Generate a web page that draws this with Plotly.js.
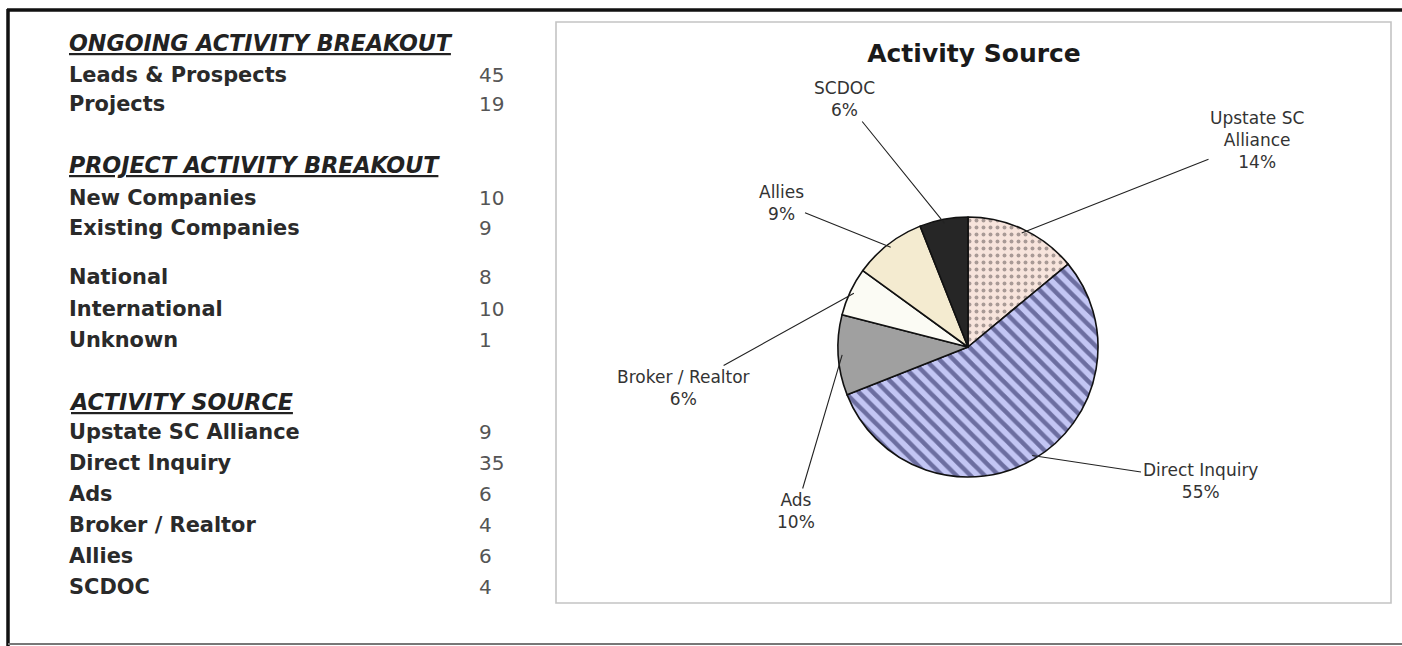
<!DOCTYPE html>
<html>
<head>
<meta charset="utf-8">
<script src="https://cdn.plot.ly/plotly-3.0.1.min.js"></script>
<style>
  html, body { margin: 0; padding: 0; background: #ffffff; }
  #chart { width: 1402px; height: 646px; }
</style>
</head>
<body>
<div id="chart"></div>
<script>
// ---------------- DATA ----------------
const ongoingTitle = 'ONGOING ACTIVITY BREAKOUT';
const ongoingLabels = ['Leads & Prospects', 'Projects'];
const ongoingValues = [45, 19];

const projectTitle = 'PROJECT ACTIVITY BREAKOUT';
const projectLabels = ['New Companies', 'Existing Companies'];
const projectValues = [10, 9];

const regionLabels = ['National', 'International', 'Unknown'];
const regionValues = [8, 10, 1];

const sourceTitle = 'ACTIVITY SOURCE';
const sourceLabels = ['Upstate SC Alliance', 'Direct Inquiry', 'Ads', 'Broker / Realtor', 'Allies', 'SCDOC'];
const sourceValues = [9, 35, 6, 4, 6, 4];

const pieTitle = 'Activity Source';
const pieLabels = ['Upstate SC<br>Alliance', 'Direct Inquiry', 'Ads', 'Broker / Realtor', 'Allies', 'SCDOC'];
const piePercents = [14, 55, 10, 6, 9, 6];   // as printed on the pie

// ---------------- LAYOUT / STYLE ----------------
const W = 1402, H = 646;
const px = x => x / W;
const py = y => 1 - y / H;

const FONT = 'DejaVu Sans, Verdana, sans-serif';
const textX = 67, numX = 477;

// blocks of the left-hand list: heading y, first row y, row step
const blocks = [
  { title: ongoingTitle, headY: 43, rowY: 75, step: 29.5, labels: ongoingLabels, values: ongoingValues },
  { title: projectTitle, headY: 165, rowY: 198, step: 30, labels: projectLabels, values: projectValues },
  { title: null, headY: 0, rowY: 277, step: 31.5, labels: regionLabels, values: regionValues },
  { title: sourceTitle, headY: 402, rowY: 432, step: 31, labels: sourceLabels, values: sourceValues }
];

const annotations = [];
blocks.forEach(b => {
  if (b.title) {
    annotations.push({
      text: b.title, x: px(textX), y: py(b.headY), xref: 'paper', yref: 'paper',
      xanchor: 'left', yanchor: 'middle', showarrow: false,
      font: { family: FONT, size: 22.2, color: '#222', weight: 'bold', style: 'italic', lineposition: 'under' }
    });
  }
  b.labels.forEach((lab, i) => {
    const y = b.rowY + i * b.step;
    annotations.push({
      text: lab, x: px(textX), y: py(y), xref: 'paper', yref: 'paper',
      xanchor: 'left', yanchor: 'middle', showarrow: false,
      font: { family: FONT, size: 20.9, color: '#2a2a2a', weight: 'bold' }
    });
    annotations.push({
      text: String(b.values[i]), x: px(numX), y: py(y), xref: 'paper', yref: 'paper',
      xanchor: 'left', yanchor: 'middle', showarrow: false,
      font: { family: FONT, size: 20, color: '#555' }
    });
  });
});

// pie geometry
const cx = 968, cy = 347, R = 130;
// label centres (pixels) for the pie callouts
const calloutPos = [[1257, 140], [1200, 481], [796, 511], [683, 388], [781, 203], [844, 99]];

const total = piePercents.reduce((a, b) => a + b, 0);
let cum = 0;
piePercents.forEach((v, i) => {
  const mid = (cum + v / 2) / total;
  cum += v;
  const th = 2 * Math.PI * mid;
  const ex = cx + R * 0.97 * Math.sin(th);
  const ey = cy - R * 0.97 * Math.cos(th);
  annotations.push({
    text: pieLabels[i] + '<br>' + v + '%',
    x: px(ex), y: py(ey), xref: 'paper', yref: 'paper',
    showarrow: true, arrowhead: 0, arrowwidth: 1.1, arrowcolor: '#222', standoff: 0,
    ax: calloutPos[i][0] - ex, ay: calloutPos[i][1] - ey,
    font: { family: FONT, size: 17, color: '#333' }, align: 'center'
  });
});

const trace = {
  type: 'pie',
  labels: sourceLabels,
  values: piePercents,
  sort: false,
  direction: 'clockwise',
  rotation: 0,
  textinfo: 'none',
  hoverinfo: 'label+percent',
  showlegend: false,
  domain: { x: [px(cx - R), px(cx + R)], y: [py(cy + R), py(cy - R)] },
  marker: {
    colors: ['#f7e4dc', '#c3c6f4', '#a0a0a0', '#fbfbf4', '#f4ebd0', '#262626'],
    line: { color: '#111', width: 1.6 },
    pattern: {
      shape: ['.', '\\', '', '', '', ''],
      fgcolor: ['#5a5050', '#16164c', '#a0a0a0', '#fbfbf4', '#f4ebd0', '#262626'],
      bgcolor: ['#f7e4dc', '#c3c6f4', '#a0a0a0', '#fbfbf4', '#f4ebd0', '#262626'],
      size: [7, 10, 8, 8, 8, 8],
      solidity: [0.25, 0.45, 0.3, 0.3, 0.3, 0.3],
      fillmode: 'overlay'
    }
  }
};

const shapes = [
  // outer frame
  { type: 'line', xref: 'paper', yref: 'paper', x0: px(7), x1: 1, y0: py(10), y1: py(10), line: { color: '#111', width: 3.5 } },
  { type: 'line', xref: 'paper', yref: 'paper', x0: px(8), x1: px(8), y0: py(9), y1: 0, line: { color: '#111', width: 3.5 } },
  { type: 'line', xref: 'paper', yref: 'paper', x0: px(8), x1: 1, y0: py(644), y1: py(644), line: { color: '#777', width: 2 } },
  // chart box
  { type: 'rect', xref: 'paper', yref: 'paper', x0: px(556), x1: px(1391), y0: py(603), y1: py(22), line: { color: '#c4c4c4', width: 1.6 } }
];

const layout = {
  width: W, height: H,
  margin: { l: 0, r: 0, t: 0, b: 0 },
  paper_bgcolor: '#ffffff',
  plot_bgcolor: '#ffffff',
  showlegend: false,
  title: {
    text: '<b>' + pieTitle + '</b>',
    x: px(974), y: py(53), xref: 'paper', yref: 'paper',
    xanchor: 'center', yanchor: 'middle',
    font: { family: FONT, size: 25, color: '#1a1a1a' }
  },
  shapes: shapes,
  annotations: annotations
};

Plotly.newPlot('chart', [trace], layout, { staticPlot: true, displayModeBar: false });
</script>
</body>
</html>
